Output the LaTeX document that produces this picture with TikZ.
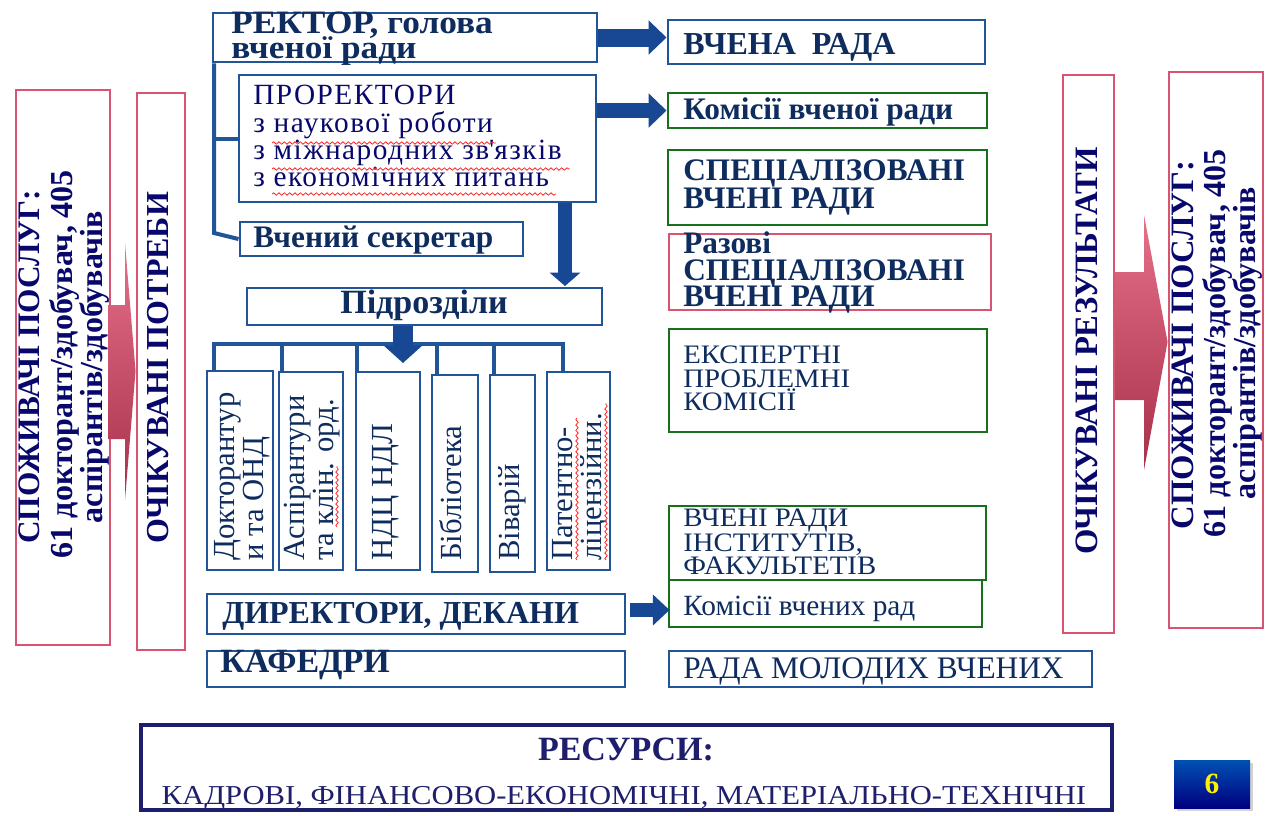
\documentclass[tikz,border=0pt]{standalone}
\usepackage{fontspec}
\usepackage{graphicx}
\setmainfont{Liberation Serif}
\usetikzlibrary{fit,arrows.meta,calc,decorations.pathmorphing,shadows}
\definecolor{bbl}{RGB}{34,84,152}
\definecolor{bgr}{RGB}{22,112,28}
\definecolor{bpk}{RGB}{216,84,112}
\definecolor{txt}{RGB}{14,44,94}
\definecolor{nav}{RGB}{8,8,108}
\definecolor{arw}{RGB}{24,72,148}
\definecolor{pnk}{RGB}{222,64,98}
\definecolor{res}{RGB}{30,30,108}
\newcommand\fz[1]{\fontsize{#1}{#1}\selectfont}
\newcommand\widetxt[1]{\scalebox{1.08}[1]{#1}}
\tikzset{
  x=0.75pt, y=-0.75pt,
  bx/.style={draw, line width=2.2pt, inner sep=0pt, fill=white},
  bluebox/.style={bx, draw=bbl},
  greenbox/.style={bx, draw=bgr},
  pinkbox/.style={bx, draw=bpk},
  lbl/.style={inner sep=0pt, text=txt, anchor=base west},
  side/.style={inner sep=0pt, text=nav, anchor=base, rotate=90, font=\bfseries},
  coltxt/.style={inner sep=0pt, text=txt, anchor=base west, rotate=90, font=\fz{23}},
  bus/.style={draw=bbl, line width=3pt},
  blarrow/.style={draw=arw},
  pkarrow/.style={top color=pnk!75!white, bottom color=pnk!75!black, draw=none},
  wavy/.style={draw=red!85, line width=0.6pt, decorate, decoration={snake, segment length=4pt, amplitude=0.9pt}},
}
\begin{document}
\begin{tikzpicture}
\useasboundingbox (0,0) rectangle (1269,815);
\fill[white] (0,0) rectangle (1269,815);

% ---------- left side ----------
\node[pinkbox, fit={(16,90)(110,645)}] (spl) {};
\node[pinkbox, fit={(137,93)(185,650)}] (ochp) {};
\node[side, font=\fz{23.5}\bfseries] (splA) at (39,367) {СПОЖИВАЧІ ПОСЛУГ:};
\node[side, font=\fz{24}\bfseries] (splB) at (72,364) {61 докторант/здобувач, 405};
\node[side, font=\fz{24}\bfseries] (splC) at (102,367) {аспірантів/здобувачів};
\node[side, font=\fz{24}\bfseries] (ochpT) at (168,368) {ОЧІКУВАНІ ПОТРЕБИ};
\path[pkarrow] (108,305) -- (125,305) -- (125,243) -- (ochp.west |- 0,371) -- (125,500)
  -- (125,439) -- (108,439) -- cycle;

% ---------- right side ----------
\node[pinkbox, fit={(1063,75)(1114,633)}] (ochr) {};
\node[pinkbox, fit={(1169,72)(1263,628)}] (spr) {};
\node[side, font=\fz{24.5}\bfseries] (ochrT) at (1097,351) {ОЧІКУВАНІ РЕЗУЛЬТАТИ};
\node[side, font=\fz{24.5}\bfseries] (sprA) at (1193,345) {СПОЖИВАЧІ ПОСЛУГ:};
\node[side, font=\fz{24}\bfseries] (sprB) at (1225,343) {61 докторант/здобувач, 405};
\node[side, font=\fz{24}\bfseries] (sprC) at (1255,343) {аспірантів/здобувачів};
\path[pkarrow] (ochr.east |- 0,272) -- (1144,272) -- (1144,215) -- (spr.west |- 0,342)
  -- (1144,470) -- (1144,400) -- (ochr.east |- 0,400) -- cycle;

% ---------- centre-left column ----------
\node[bluebox, fit={(213,13)(597,62)}] (rector) {};
\node[lbl, font=\fz{24.5}\bfseries] (rectorA) at (231,33) {\widetxt{РЕКТОР, голова}};
\node[lbl, font=\fz{24.5}\bfseries] (rectorB) at (231,58) {\widetxt{вченої ради}};

\node[bluebox, fit={(239,75)(596,202)}] (prorek) {};
\node[lbl, text=nav, font={\fz{22}\addfontfeature{LetterSpace=5}}] (prA) at (253,104) {ПРОРЕКТОРИ};
\node[lbl, text=nav, font={\fz{22}\addfontfeature{LetterSpace=5}}] (prB) at (253,132) {з наукової роботи};
\node[lbl, text=nav, font={\fz{22}\addfontfeature{LetterSpace=5}}] (prC) at (253,159) {з міжнародних зв\textquotesingle язків};
\node[lbl, text=nav, font={\fz{22}\addfontfeature{LetterSpace=5}}] (prD) at (253,186) {з економічних питань};
\draw[wavy] (272,143) -- (496,143);
\draw[wavy] (272,169) -- (570,169);
\draw[wavy] (272,194) -- (556,194);

\node[bluebox, fit={(240,222)(523,256)}] (secr) {};
\node[lbl, font=\fz{23.5}\bfseries] (secrT) at (253,247) {Вчений секретар};

\node[bluebox, fit={(247,288)(602,325)}] (podr) {};
\node[lbl, anchor=base, font=\fz{25.5}\bfseries] (podrT) at (424,313) {Підрозділи};

% columns
\node[bluebox, fit={(207,371)(273,570)}] (c1) {};
\node[bluebox, fit={(279,372)(343,570)}] (c2) {};
\node[bluebox, fit={(356,372)(420,570)}] (c3) {};
\node[bluebox, fit={(432,375)(478,572)}] (c4) {};
\node[bluebox, fit={(490,375)(535,572)}] (c5) {};
\node[bluebox, fit={(547,372)(610,570)}] (c6) {};
\node[coltxt] (c1A) at (234,561) {Докторантур};
\node[coltxt] (c1B) at (263,561) {и та ОНД};
\node[coltxt] (c2A) at (304,561) {Аспірантури};
\node[coltxt] (c2B) at (333,561) {та клін. орд.};
\node[coltxt] (c3A) at (392,561) {НДЦ НДЛ};
\node[coltxt] (c4A) at (461,561) {Бібліотека};
\node[coltxt] (c5A) at (519,561) {Віварій};
\node[coltxt] (c6A) at (572,561) {Патентно-};
\node[coltxt] (c6B) at (601,561) {ліцензійни.};
\draw[wavy] (337,527) -- (337,466);
\draw[wavy] (577,560) -- (577,418);
\draw[wavy] (606,560) -- (606,403);

% bus from Підрозділи to columns
\coordinate (b1) at (214,344);
\coordinate (b2) at (282,344);
\coordinate (b3) at (357,344);
\coordinate (b4) at (437,344);
\coordinate (b5) at (494,344);
\coordinate (b6) at (563,344);
\draw[bus] (b1 |- c1.north) -- (b1) -- (b6) -- (b6 |- c6.north);
\draw[bus] (b2) -- (b2 |- c2.north);
\draw[bus] (b3) -- (b3 |- c3.north);
\draw[bus] (b4) -- (b4 |- c4.north);
\draw[bus] (b5) -- (b5 |- c5.north);

\node[bluebox, fit={(207,594)(625,634)}] (dir) {};
\node[lbl, font=\fz{24}\bfseries] (dirT) at (222,623) {ДИРЕКТОРИ, ДЕКАНИ};
\node[bluebox, fit={(207,651)(625,687)}] (kaf) {};
\node[lbl, font=\fz{25.5}\bfseries] (kafT) at (220,672) {КАФЕДРИ};

% spine from rector
\coordinate (spb) at (214,233);
\draw[bus] (rector.south west -| spb) -- (spb) -- (secr.west);
\draw[bus] (prorek.west -| spb) -- (prorek.west);

% ---------- right column ----------
\node[bluebox, fit={(668,20)(985,64)}] (vchena) {};
\node[lbl, font=\fz{24}\bfseries] (vchenaT) at (683,54) {ВЧЕНА\ \ РАДА};

\node[greenbox, fit={(668,93)(987,128)}] (komv) {};
\node[lbl, font=\fz{23.5}\bfseries] (komvT) at (683,119) {Комісії вченої ради};

\node[greenbox, fit={(668,150)(987,225)}] (spec) {};
\node[lbl, font=\fz{23.5}\bfseries] (specA) at (683,180) {СПЕЦІАЛІЗОВАНІ};
\node[lbl, font=\fz{23.5}\bfseries] (specB) at (683,208) {ВЧЕНІ РАДИ};

\node[pinkbox, fit={(669,234)(991,310)}] (raz) {};
\node[lbl, font=\fz{23.5}\bfseries] (razA) at (683,253) {Разові};
\node[lbl, font=\fz{23.5}\bfseries] (razB) at (683,280) {СПЕЦІАЛІЗОВАНІ};
\node[lbl, font=\fz{23.5}\bfseries] (razC) at (683,306) {ВЧЕНІ РАДИ};

\node[greenbox, fit={(669,329)(987,432)}] (eksp) {};
\node[lbl, font=\fz{20}] (ekspA) at (683,363) {\widetxt{ЕКСПЕРТНІ}};
\node[lbl, font=\fz{20}] (ekspB) at (683,387) {\widetxt{ПРОБЛЕМНІ}};
\node[lbl, font=\fz{20}] (ekspC) at (683,410) {\widetxt{КОМІСІЇ}};

\node[greenbox, fit={(669,506)(986,580)}] (vri) {};
\node[lbl, font=\fz{20}] (vriA) at (683,526) {\widetxt{ВЧЕНІ РАДИ}};
\node[lbl, font=\fz{20}] (vriB) at (683,551) {\widetxt{ІНСТИТУТІВ,}};
\node[lbl, font=\fz{20}] (vriC) at (683,574) {\widetxt{ФАКУЛЬТЕТІВ}};

\node[greenbox, fit={(669,580)(982,627)}] (komr) {};
\node[lbl, font=\fz{22}] (komrT) at (683,615) {Комісії вчених рад};

\node[bluebox, fit={(669,651)(1092,687)}] (rmv) {};
\node[lbl, font=\fz{23.5}] (rmvT) at (683,678) {РАДА МОЛОДИХ ВЧЕНИХ};

% ---------- blue arrows ----------
\draw[blarrow, line width=13.5pt, -{Triangle[length=13.5pt,width=25pt]}]
  (rector.east) -- (vchena.west |- rector.east);
\draw[blarrow, line width=11pt, -{Triangle[length=13.5pt,width=25pt]}]
  (prorek.east |- komv.west) -- (komv.west);
\coordinate (a3) at (565,286);
\draw[blarrow, line width=10.5pt, -{Triangle[length=10pt,width=22.5pt]}]
  (prorek.south -| a3) -- (a3);
\coordinate (a4) at (403,363);
\draw[blarrow, line width=15pt, -{Triangle[length=13pt,width=28pt]}]
  (podr.south -| a4) -- (a4);
\draw[blarrow, line width=11pt, -{Triangle[length=12.5pt,width=22.5pt]}]
  ($(dir.east)+(4,-4)$) -- ($(komr.west |- dir.east)+(2,-4)$);

% ---------- resources ----------
\node[draw=res, line width=3pt, inner sep=0pt, fit={(141,725)(1112,810)}] (resb) {};
\node[lbl, text=res, anchor=base, font=\fz{25.5}\bfseries] (resA) at (626,760) {РЕСУРСИ:};
\node[lbl, text=res, anchor=base, font=\fz{20.5}] (resB) at (624,804) {\scalebox{1.12}[1]{КАДРОВІ, ФІНАНСОВО-ЕКОНОМІЧНІ, МАТЕРІАЛЬНО-ТЕХНІЧНІ}};

\node[minimum width=57pt, minimum height=36pt, inner sep=0pt,
  top color=blue!55!cyan!70!black, bottom color=blue!50!black,
  drop shadow={shadow xshift=2pt, shadow yshift=-2pt, opacity=0.35},
  text=yellow, font=\fz{22}\bfseries] (badge) at (1212,784) {6};
\end{tikzpicture}
\end{document}
